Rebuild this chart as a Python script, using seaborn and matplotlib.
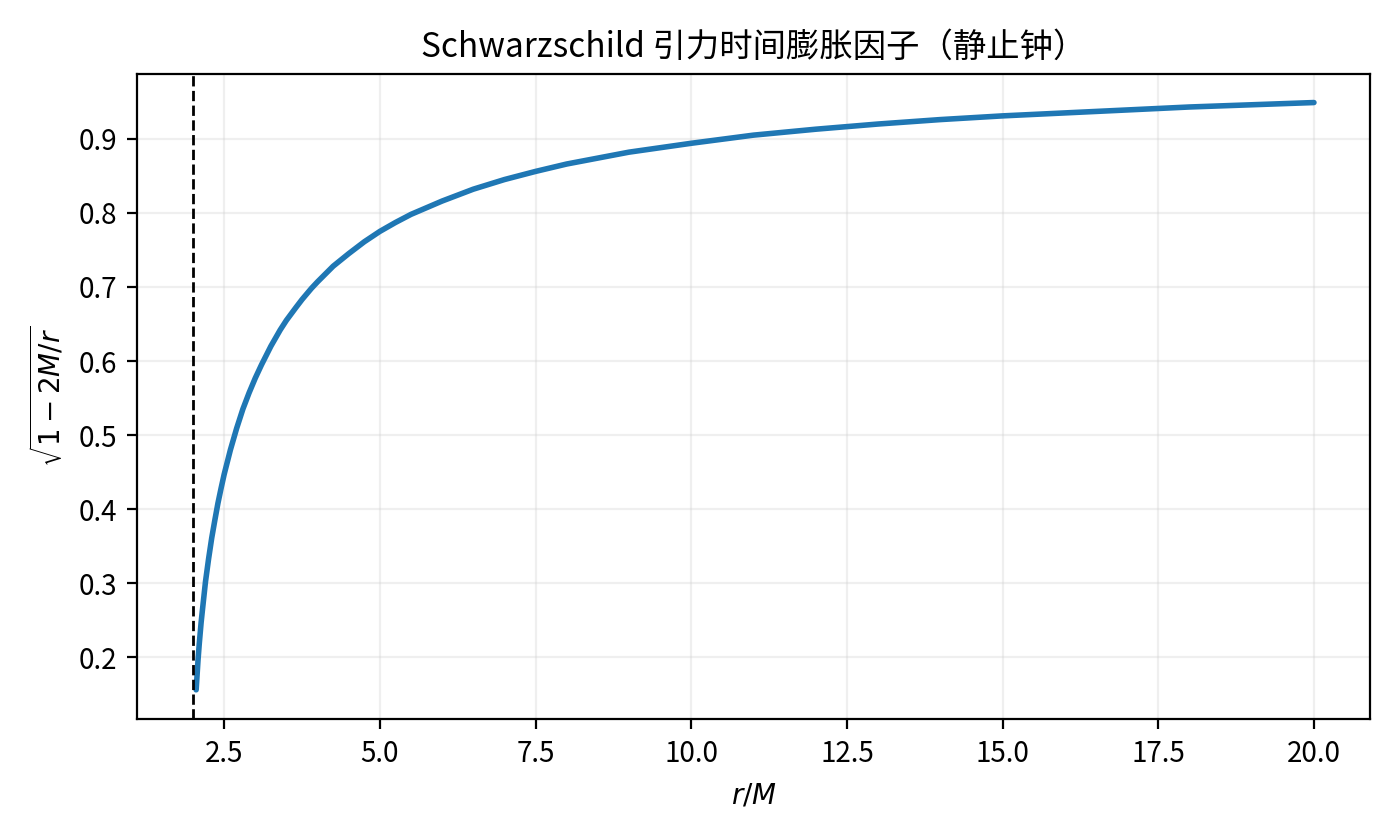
import numpy as np
import matplotlib
matplotlib.use("Agg")
import matplotlib.pyplot as plt
import seaborn as sns

# values
r_over_m = [2.05, 2.08, 2.1, 2.13, 2.15, 2.2, 2.25, 2.3, 2.35, 2.4, 2.45, 2.5, 2.6, 2.7, 2.8,
            2.9, 3.0, 3.1, 3.25, 3.4, 3.5, 3.65, 3.75, 3.9, 4.0, 4.25, 4.5, 4.75, 5.0,
            5.25, 5.5, 5.75, 6.0, 6.5, 7.0, 7.5, 8.0, 8.5, 9.0, 9.5, 10.0, 11.0, 12.0,
            13.0, 14.0, 15.0, 16.0, 17.0, 18.0, 19.0, 20.0]
factor = [0.156, 0.196, 0.218, 0.247, 0.263, 0.302, 0.333, 0.361, 0.385, 0.408, 0.428,
          0.447, 0.480, 0.509, 0.535, 0.557, 0.577, 0.595, 0.620, 0.642, 0.655, 0.672,
          0.683, 0.698, 0.707, 0.728, 0.745, 0.761, 0.775, 0.787, 0.798, 0.807, 0.816,
          0.832, 0.845, 0.856, 0.866, 0.874, 0.882, 0.888, 0.894, 0.905, 0.913, 0.920,
          0.926, 0.931, 0.935, 0.939, 0.943, 0.946, 0.949]
horizon = 2.0

sns.set_style("ticks", {"text.color": "black", "axes.labelcolor": "black",
                        "xtick.color": "black", "ytick.color": "black",
                        "axes.edgecolor": "black"})
plt.rcParams['font.family'] = ['Noto Sans CJK SC', 'DejaVu Sans']
plt.rcParams['axes.unicode_minus'] = False

fig, ax = plt.subplots(figsize=(7, 4.2), dpi=200)
sns.lineplot(x=r_over_m, y=factor, ax=ax, color='#1f77b4', linewidth=2)
ax.axvline(horizon, color='black', linestyle='--', linewidth=1)
ax.set_xlim(1.1, 20.9)
ax.set_ylim(0.116, 0.988)
ax.set_xticks(np.arange(2.5, 20.1, 2.5))
ax.grid(True, alpha=0.3)
ax.set_xlabel(r'$r/M$')
ax.set_ylabel(r'$\sqrt{1-2M/r}$')
ax.set_title('Schwarzschild 引力时间膨胀因子（静止钟）')
fig.tight_layout()
fig.savefig('out.png')
